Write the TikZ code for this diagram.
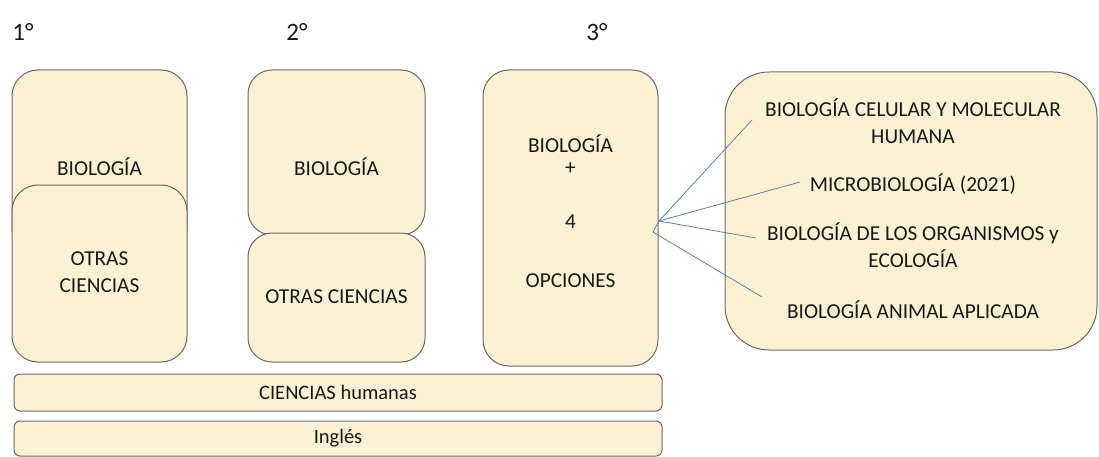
\documentclass[tikz,border=0pt]{standalone}
\usepackage{fontspec}
\setmainfont{Carlito}
\definecolor{boxfill}{RGB}{253,241,212}
\definecolor{boxline}{RGB}{105,105,105}
\definecolor{fanline}{RGB}{95,130,170}
\begin{document}
\begin{tikzpicture}[x=1pt,y=-1pt,
  box/.style={draw=boxline,fill=boxfill,line width=1pt,inner sep=0pt,outer sep=0pt,anchor=north west},
  txt/.style={font=\fontsize{21.3}{27}\selectfont,align=center,text=black!90,inner sep=0pt},
  yr/.style={font=\fontsize{25}{28}\selectfont,text=black!90,inner sep=0pt},
  fan/.style={draw=fanline,line width=0.8pt}]
\useasboundingbox (0,0) rectangle (1099,457);
\fill[white] (0,0) rectangle (1099,457);
% year labels
\node[yr] (y1) at (23,32) {1°};
\node[yr] (y2) at (297,32) {2°};
\node[yr] (y3) at (597,32) {3°};
% column 1
\node[box,rounded corners=26pt,minimum width=175pt,minimum height=185pt] (b1) at (12,70) {};
\node[txt] (t1) at (99.5,167) {BIOLOGÍA};
\node[box,rounded corners=26pt,minimum width=175pt,minimum height=177pt] (o1) at (12,185) {};
\node[txt] (u1) at (99.5,272) {OTRAS\\CIENCIAS};
% column 2
\node[box,rounded corners=24pt,minimum width=177pt,minimum height=165pt] (b2) at (248,70) {};
\node[txt] (t2) at (336.5,167) {BIOLOGÍA};
\node[box,rounded corners=24pt,minimum width=177pt,minimum height=129pt] (o2) at (248,233) {};
\node[txt] (u2) at (336.5,297) {OTRAS CIENCIAS};
% column 3
\node[box,rounded corners=26pt,minimum width=175pt,minimum height=296pt] (b3) at (483,70) {};
\node[txt] (t3a) at (570.5,144) {BIOLOGÍA};
\node[txt] (t3b) at (570.5,169) {+};
\node[txt] (t3c) at (570.5,222) {4};
\node[txt] (t3d) at (570.5,281) {OPCIONES};
% options box
\node[box,rounded corners=44pt,minimum width=372pt,minimum height=278pt] (r) at (725,72) {};
\node[txt] (r1) at (913,121) {BIOLOGÍA CELULAR Y MOLECULAR\\HUMANA};
\node[txt] (r2) at (913,184) {MICROBIOLOGÍA (2021)};
\node[txt] (r3) at (913,245) {BIOLOGÍA DE LOS ORGANISMOS y\\ECOLOGÍA};
\node[txt] (r4) at (913,310) {BIOLOGÍA ANIMAL APLICADA};
% fan
\coordinate (f0) at (659,221);
\coordinate (f1) at (653,232);
\coordinate (e1) at (752,120);
\coordinate (e2) at (800,182);
\coordinate (e3) at (756,238);
\coordinate (e4) at (762,297);
\draw[fan] (f0) -- (e1);
\draw[fan] (f0) -- (e2);
\draw[fan] (f0) -- (e3);
\draw[fan] (f0) -- (f1) -- (e4);
% bars
\node[box,rounded corners=6pt,minimum width=648pt,minimum height=37pt] (h) at (14,374) {};
\node[txt,font=\fontsize{20.5}{24}\selectfont] (ht) at (338,392) {CIENCIAS humanas};
\node[box,rounded corners=6pt,minimum width=648pt,minimum height=35pt] (i) at (14,421) {};
\node[txt,font=\fontsize{20.5}{24}\selectfont] (it) at (338,438) {Inglés};
\end{tikzpicture}
\end{document}
